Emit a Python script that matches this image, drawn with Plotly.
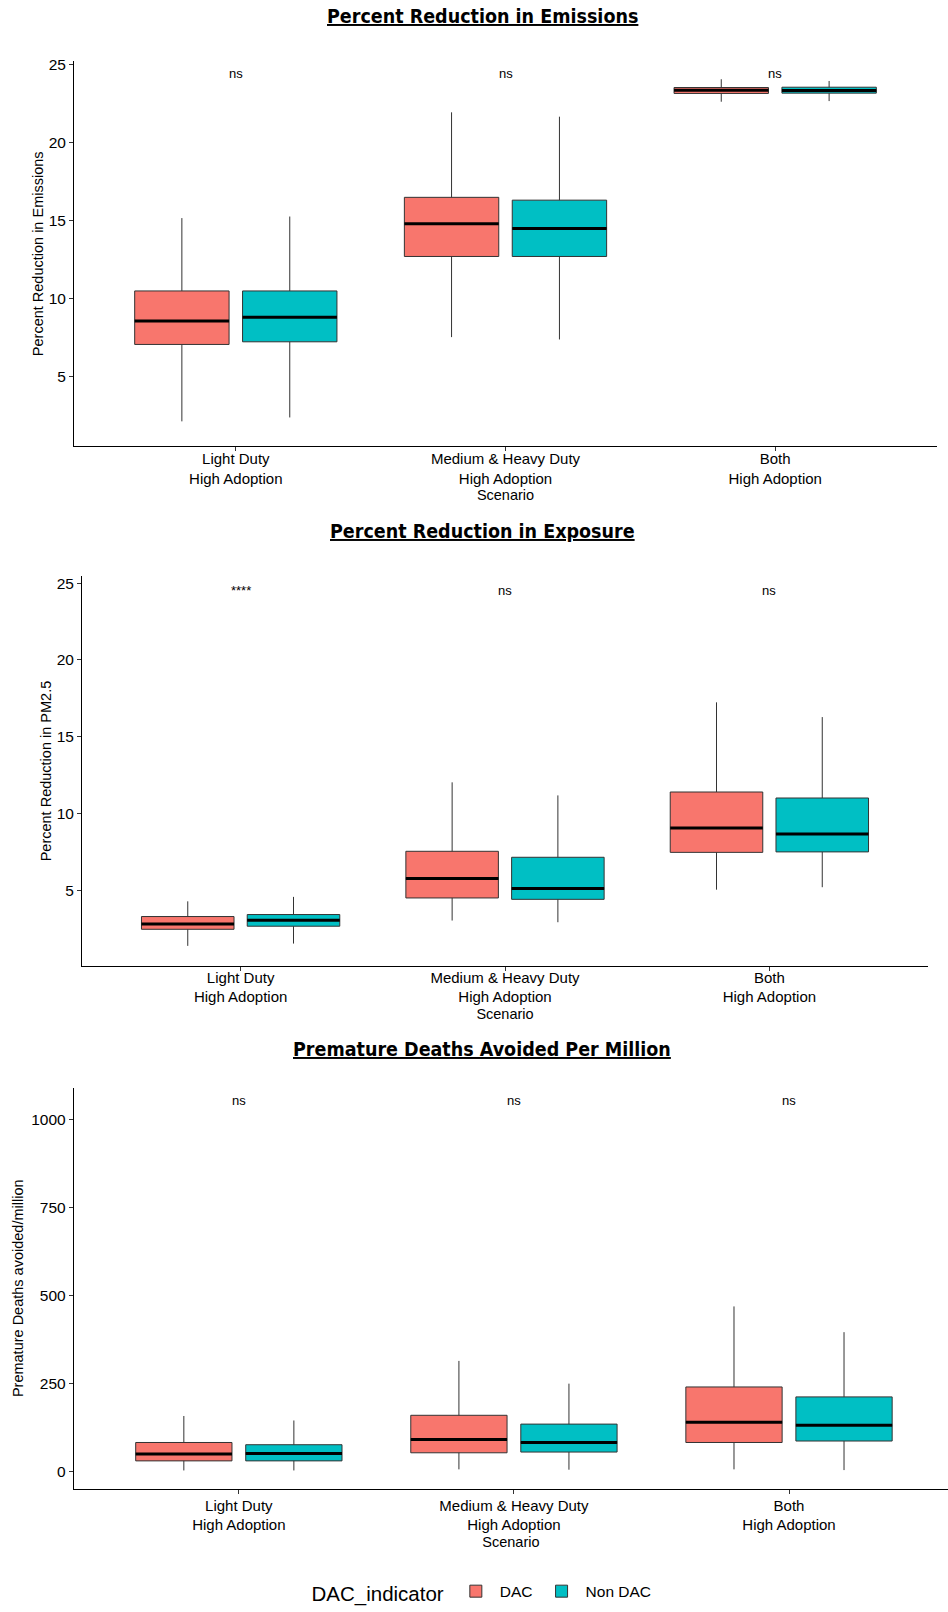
import plotly.graph_objects as go

# Scenarios (category positions 1, 2, 3 on each x axis)
scenarios = ["Light Duty<br>High Adoption",
             "Medium & Heavy Duty<br>High Adoption",
             "Both<br>High Adoption"]
scenario_pos = [1, 2, 3]
groups = ["DAC", "Non DAC"]
group_offset = {"DAC": -0.2, "Non DAC": 0.2}
group_fill = {"DAC": "#F8766D", "Non DAC": "#00BFC4"}

# Percent reduction in emissions: lower whisker, Q1, median, Q3, upper whisker
emis_dac_low = [2.14, 7.54, 22.63]
emis_dac_q1 = [7.07, 12.71, 23.16]
emis_dac_med = [8.58, 14.81, 23.37]
emis_dac_q3 = [10.50, 16.50, 23.54]
emis_dac_high = [15.17, 21.95, 24.07]
emis_non_low = [2.39, 7.39, 22.67]
emis_non_q1 = [7.24, 12.71, 23.18]
emis_non_med = [8.81, 14.51, 23.35]
emis_non_q3 = [10.50, 16.32, 23.56]
emis_non_high = [15.27, 21.67, 23.96]
emis_sig = ["ns", "ns", "ns"]

# Percent reduction in PM2.5 exposure
expo_dac_low = [1.38, 3.03, 5.04]
expo_dac_q1 = [2.46, 4.50, 7.47]
expo_dac_med = [2.81, 5.76, 9.06]
expo_dac_q3 = [3.29, 7.54, 11.40]
expo_dac_high = [4.28, 12.03, 17.24]
expo_non_low = [1.53, 2.92, 5.20]
expo_non_q1 = [2.66, 4.41, 7.50]
expo_non_med = [3.05, 5.11, 8.67]
expo_non_q3 = [3.42, 7.15, 11.01]
expo_non_high = [4.57, 11.18, 16.28]
expo_sig = ["****", "ns", "ns"]

# Premature deaths avoided per million
death_dac_low = [4.2, 7.3, 7.3]
death_dac_q1 = [31.3, 54.3, 83.5]
death_dac_med = [51.1, 91.9, 140.9]
death_dac_q3 = [83.5, 160.7, 241.1]
death_dac_high = [158.7, 315.0, 469.7]
death_non_low = [4.2, 6.3, 5.2]
death_non_q1 = [31.3, 56.4, 87.7]
death_non_med = [52.2, 83.5, 132.6]
death_non_q3 = [77.2, 135.7, 212.9]
death_non_high = [146.0, 250.5, 396.6]
death_sig = ["ns", "ns", "ns"]

panels = [
    {
        "title": "Percent Reduction in Emissions",
        "ytitle": "Percent Reduction in Emissions",
        "stats": {
            "DAC": (emis_dac_low, emis_dac_q1, emis_dac_med, emis_dac_q3, emis_dac_high),
            "Non DAC": (emis_non_low, emis_non_q1, emis_non_med, emis_non_q3, emis_non_high),
        },
        "sig": emis_sig, "sig_y": 24.45,
        "tickvals": [5, 10, 15, 20, 25], "yrange": [0.55, 25.21],
        "xpx": (74, 937), "ypx": (57, 445.3), "xrange": [0.4, 3.6],
        "title_y": -2.4, "lab_shift": -5, "ytitle_standoff": 1,
    },
    {
        "title": "Percent Reduction in Exposure",
        "ytitle": "Percent Reduction in PM2.5",
        "stats": {
            "DAC": (expo_dac_low, expo_dac_q1, expo_dac_med, expo_dac_q3, expo_dac_high),
            "Non DAC": (expo_non_low, expo_non_q1, expo_non_med, expo_non_q3, expo_non_high),
        },
        "sig": expo_sig, "sig_y": 24.52,
        "tickvals": [5, 10, 15, 20, 25], "yrange": [0.09, 25.44],
        "xpx": (82, 928), "ypx": (576.8, 969.7), "xrange": [0.4, 3.6],
        "title_y": 517.7, "lab_shift": -6, "ytitle_standoff": 1,
    },
    {
        "title": "Premature Deaths Avoided Per Million",
        "ytitle": "Premature Deaths avoided/million",
        "stats": {
            "DAC": (death_dac_low, death_dac_q1, death_dac_med, death_dac_q3, death_dac_high),
            "Non DAC": (death_non_low, death_non_q1, death_non_med, death_non_q3, death_non_high),
        },
        "sig": death_sig, "sig_y": 1054,
        "tickvals": [0, 250, 500, 750, 1000], "yrange": [-47.8, 1090],
        "xpx": (73.8, 948), "ypx": (1093, 1497.7), "xrange": [0.4, 3.578],
        "title_y": 1040.7, "lab_shift": -1, "ytitle_standoff": 4,
    },
]

W, H = 948, 1612
BOX_W = 0.35
TXT = "Liberation Sans, Arial, sans-serif"
TITLE_FONT = "Liberation Sans Narrow, DejaVu Sans Condensed, Arial Narrow, sans-serif"

fig = go.Figure()
annotations = []

for i, p in enumerate(panels):
    n = "" if i == 0 else str(i + 1)
    xa, ya = "x" + n, "y" + n
    for g in groups:
        low, q1, med, q3, high = p["stats"][g]
        xs = [c + group_offset[g] for c in scenario_pos]
        fig.add_trace(go.Box(
            x=xs, lowerfence=low, q1=q1, median=med, q3=q3, upperfence=high,
            width=BOX_W, whiskerwidth=0, boxpoints=False,
            fillcolor=group_fill[g], line=dict(color="#333333", width=1),
            name=g, legendgroup=g, showlegend=(i == 0),
            xaxis=xa, yaxis=ya, hoverinfo="skip",
        ))
        # thick median bars
        mx, my = [], []
        for x0, m in zip(xs, med):
            mx += [x0 - BOX_W / 2, x0 + BOX_W / 2, None]
            my += [m, m, None]
        fig.add_trace(go.Scatter(
            x=mx, y=my, mode="lines", line=dict(color="black", width=3),
            showlegend=False, hoverinfo="skip", xaxis=xa, yaxis=ya,
        ))
    for c, s in zip(scenario_pos, p["sig"]):
        annotations.append(dict(
            x=c, y=p["sig_y"], xref=xa, yref=ya, text=s, showarrow=False,
            font=dict(family=TXT, size=13, color="black"),
        ))
    annotations.append(dict(
        x=482 / W, y=1 - p["title_y"] / H, xref="paper", yref="paper",
        text="<b><u>" + p["title"] + "</u></b>", showarrow=False,
        xanchor="center", yanchor="top",
        font=dict(family=TITLE_FONT, size=19.5, color="black"),
    ))
    x0, x1 = p["xpx"]
    y0, y1 = p["ypx"]
    common = dict(showline=True, linecolor="black", linewidth=1,
                  ticks="outside", ticklen=4, tickcolor="#333333",
                  showgrid=False, zeroline=False)
    fig.layout["xaxis" + n] = dict(
        domain=[x0 / W, min(x1 / W, 1.0)], anchor=ya, range=p["xrange"],
        tickvals=scenario_pos, ticktext=scenarios,
        ticklabelstandoff=p["lab_shift"],
        tickfont=dict(family=TXT, size=15, color="black"),
        title=dict(text="Scenario", standoff=4,
                   font=dict(family=TXT, size=14.5, color="black")),
        **common)
    fig.layout["yaxis" + n] = dict(
        domain=[1 - y1 / H, 1 - y0 / H], anchor=xa, range=p["yrange"],
        tickvals=p["tickvals"],
        tickfont=dict(family=TXT, size=15.5, color="black"),
        title=dict(text=p["ytitle"], standoff=p["ytitle_standoff"],
                   font=dict(family=TXT, size=14.5, color="black")),
        **common)

fig.update_layout(
    width=W, height=H, margin=dict(l=0, r=0, t=0, b=0),
    paper_bgcolor="white", plot_bgcolor="white",
    boxmode="overlay",
    annotations=annotations,
    legend=dict(
        orientation="h", x=483 / W, xanchor="center", y=1 - 1603 / H, yanchor="middle",
        title=dict(text="DAC_indicator", side="left",
                   font=dict(family=TXT, size=20.5, color="black")),
        font=dict(family=TXT, size=15.5, color="black"),
        itemwidth=38,
    ),
)

fig.write_html("out.html")
